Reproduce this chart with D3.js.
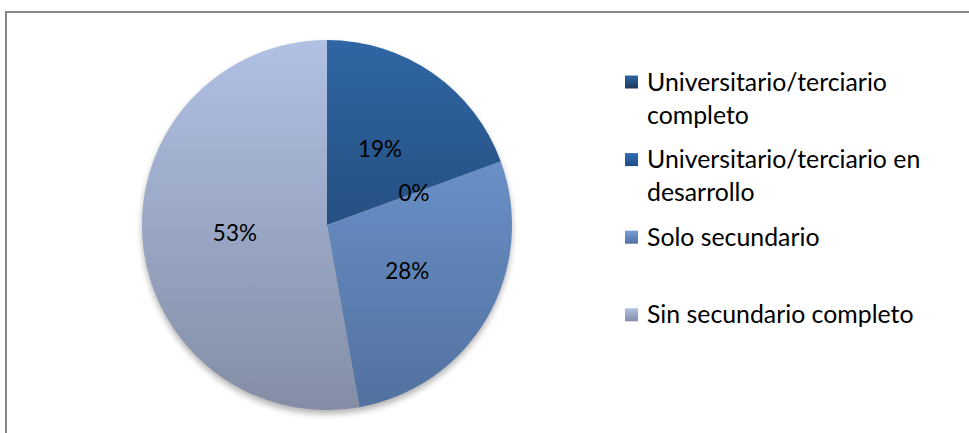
<!DOCTYPE html>
<html>
<head>
<meta charset="utf-8">
<script src="https://cdn.jsdelivr.net/npm/d3@7"></script>
<style>
  body { margin: 0; background: #fff; }
  text { font-family: Lato, "Open Sans", sans-serif; fill: #000; }
</style>
</head>
<body>
<div id="chart"></div>
<script>
var categories = ["Universitario/terciario completo",
                  "Universitario/terciario en desarrollo",
                  "Solo secundario",
                  "Sin secundario completo"];
var values = [19.4, 0.05, 27.75, 52.8];
// top / bottom colours of each slice's vertical gradient
var topColors = ["#2f66a4", "#2e6cb4", "#749ed9", "#b1c1e4"];
var bottomColors = ["#1b3960", "#1f4e88", "#52719f", "#838da5"];

var W = 969, H = 433;
var CX = 327, CY = 225, R = 185;
var LEGEND_X = 625, LEGEND_Y = 82, LEGEND_STEP = 77.6, LINE_H = 33;

var svg = d3.select("#chart").append("svg")
  .attr("width", W)
  .attr("height", H)

var defs = svg.append("defs");

defs.append("filter").attr("id", "shadow")
  .attr("x", "-10%").attr("y", "-10%").attr("width", "120%").attr("height", "120%")
  .append("feGaussianBlur").attr("stdDeviation", 3);

categories.forEach(function (c, i) {
  var g = defs.append("linearGradient").attr("id", "slice" + i)
    .attr("gradientUnits", "userSpaceOnUse")
    .attr("x1", 0).attr("x2", 0).attr("y1", -R).attr("y2", R);
  g.append("stop").attr("offset", "0%").attr("stop-color", topColors[i]);
  g.append("stop").attr("offset", "100%").attr("stop-color", bottomColors[i]);

  var lg = defs.append("linearGradient").attr("id", "key" + i)
    .attr("x1", 0).attr("x2", 0).attr("y1", 0).attr("y2", 1);
  lg.append("stop").attr("offset", "0%").attr("stop-color", topColors[i]);
  lg.append("stop").attr("offset", "100%").attr("stop-color", bottomColors[i]);
});

// chart area border (right and bottom edges fall outside the picture)
svg.append("rect")
  .attr("x", 6).attr("y", 12)
  .attr("width", W + 20).attr("height", H + 20)
  .style("fill", "none")
  .style("stroke", "#878787")
  .style("stroke-width", 2)

var pieGroup = svg.append("g")
  .attr("transform", "translate(" + CX + "," + CY + ")")

pieGroup.append("circle")
  .attr("r", R)
  .attr("cy", 4)
  .style("fill", "#000")
  .style("opacity", 0.3)
  .attr("filter", "url(#shadow)")

var pie = d3.pie().sort(null).value(d => d);
var arcs = pie(values);
var total = d3.sum(values);

var arc = d3.arc().innerRadius(0).outerRadius(R);
var labelArc = d3.arc().innerRadius(R * 0.5).outerRadius(R * 0.5);

pieGroup.selectAll(".slice")
  .data(arcs).enter()
  .append("path")
  .attr("class", "slice")
  .attr("d", arc)
  .style("fill", (d, i) => "url(#slice" + i + ")")

// measure text so the sans fallback matches Calibri widths
function fitSize(str, target) {
  var t = svg.append("text").style("font-size", "100px").text(str);
  var w = t.node().getComputedTextLength();
  t.remove();
  return 100 * target / w;
}

var labelSize = fitSize("19%", 44);

pieGroup.selectAll(".pct")
  .data(arcs).enter()
  .append("text")
  .attr("class", "pct")
  .attr("transform", d => "translate(" + labelArc.centroid(d) + ")")
  .attr("dy", "0.35em")
  .style("text-anchor", "middle")
  .style("font-size", labelSize + "px")
  .text(d => Math.round(d.data / total * 100) + "%")

// legend
var legendSize = fitSize("Universitario/terciario", 240);
var MAX_W = 280;

function wrap(str) {
  var words = str.split(" "), lines = [], cur = "";
  var t = svg.append("text").style("font-size", legendSize + "px");
  words.forEach(function (w) {
    var test = cur ? cur + " " + w : w;
    t.text(test);
    if (t.node().getComputedTextLength() > MAX_W && cur) {
      lines.push(cur);
      cur = w;
    } else {
      cur = test;
    }
  });
  lines.push(cur);
  t.remove();
  return lines;
}

var legend = svg.append("g").attr("class", "legend")

categories.forEach(function (c, i) {
  var y = LEGEND_Y + i * LEGEND_STEP;
  legend.append("rect")
    .attr("x", LEGEND_X)
    .attr("y", y - 6.5)
    .attr("width", 13)
    .attr("height", 13)
    .style("fill", "url(#key" + i + ")")

  var t = legend.append("text")
    .attr("x", LEGEND_X + 22)
    .attr("y", y)
    .style("font-size", legendSize + "px")
  wrap(c).forEach(function (line, j) {
    t.append("tspan")
      .attr("x", LEGEND_X + 22)
      .attr("y", y + j * LINE_H)
      .attr("dy", "0.35em")
      .text(line)
  })
})
</script>
</body>
</html>
